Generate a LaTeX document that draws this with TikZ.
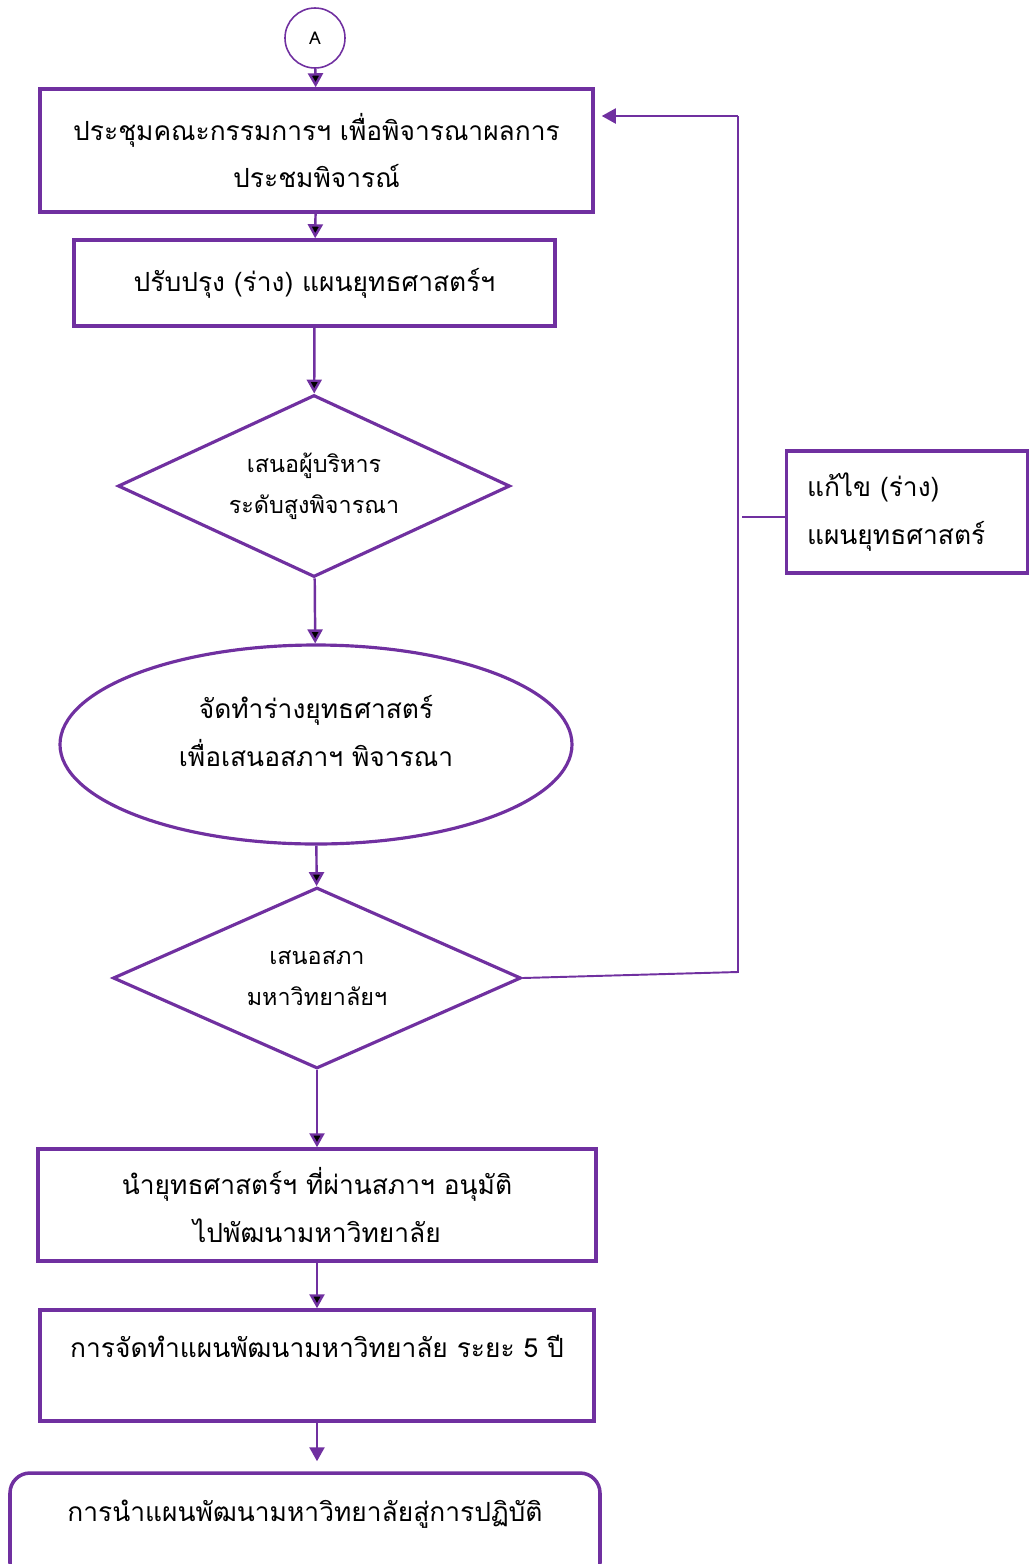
\documentclass[tikz,border=0pt]{standalone}
\usepackage{fontspec}
\newfontfamily\thaifont[Script=Thai]{Loma}
\usepackage{tikz}
\usetikzlibrary{arrows.meta, shapes.geometric, positioning, calc}
\definecolor{plan_purple}{RGB}{112,48,160}

\begin{document}
\begin{tikzpicture}
	\tikzstyle{box_style}=[rectangle, draw=plan_purple, line width=2pt, align=center, inner sep=0pt, font=\thaifont\fontsize{15}{27}\selectfont]
	\tikzstyle{decision_style}=[diamond, aspect=2.2, draw=plan_purple, line width=1.8pt, align=center, inner sep=0pt, font=\thaifont\fontsize{13.3}{23.5}\selectfont]
	\tikzstyle{arrow_style}=[draw=plan_purple, line width=1.4pt, -{Triangle[length=0.28cm, width=0.3cm]}]
	\tikzstyle{loop_style}=[draw=plan_purple, line width=1.1pt]
	\useasboundingbox (0, 0) rectangle (20.6, -31.28);
	% connector A
	\node at (6.30, -0.76) [circle, draw=plan_purple, line width=0.9pt, minimum size=1.2cm, inner sep=0pt, font=\thaifont\fontsize{10}{12}\selectfont] (conn_a) {A};
	% committee meeting
	\node at (6.33, -3.01) [box_style, minimum width=11.06cm, minimum height=2.46cm] (box_meet) {ประชุมคณะกรรมการฯ เพื่อพิจารณาผลการ\\ประชมพิจารณ์};
	\node at (6.29, -5.66) [box_style, minimum width=9.62cm, minimum height=1.72cm] (box_improve) {ปรับปรุง (ร่าง) แผนยุทธศาสตร์ฯ};
	% executives
	\node at (6.28, -9.72) [decision_style, minimum width=7.84cm, minimum height=3.64cm] (dia_exec) {เสนอผู้บริหาร\\ระดับสูงพิจารณา};
	\node at (6.32, -14.89) [ellipse, draw=plan_purple, line width=1.8pt, minimum width=10.24cm, minimum height=3.98cm, align=center, inner sep=0pt, text depth=0.55cm, font=\thaifont\fontsize{15}{27}\selectfont] (ell_draft) {จัดทำร่างยุทธศาสตร์\\เพื่อเสนอสภาฯ พิจารณา};
	% university council
	\node at (6.34, -19.56) [decision_style, minimum width=8.16cm, minimum height=3.62cm] (dia_council) {เสนอสภา\\มหาวิทยาลัยฯ};
	% revision
	\node at (18.14, -10.24) [box_style, minimum width=4.82cm, minimum height=2.44cm, text width=4.0cm, align=left] (box_revise) {แก้ไข (ร่าง)\\แผนยุทธศาสตร์};
	% implementation
	\node at (6.34, -24.10) [box_style, minimum width=11.16cm, minimum height=2.24cm] (box_apply) {นำยุทธศาสตร์ฯ ที่ผ่านสภาฯ อนุมัติ\\ไปพัฒนามหาวิทยาลัย};
	\node at (6.34, -27.31) [box_style, minimum width=11.08cm, minimum height=2.22cm, text depth=0.75cm] (box_plan) {การจัดทำแผนพัฒนามหาวิทยาลัย ระยะ 5 ปี};
	\node at (6.10, -30.56) [box_style, rounded corners=0.4cm, minimum width=11.8cm, minimum height=2.2cm, text depth=0.7cm] (box_use) {การนำแผนพัฒนามหาวิทยาลัยสู่การปฏิบัติ};
	% connect: main flow
	\foreach \a/\b in {conn_a/box_meet, box_meet/box_improve, box_improve/dia_exec, dia_exec/ell_draft, ell_draft/dia_council, dia_council/box_apply, box_apply/box_plan}
		\path[arrow_style] (\a) edge (\b);
	\draw[arrow_style, shorten >=0.2cm] (box_plan.south) -- (box_plan.south |- box_use.north);
	% connect: back to meeting
	\coordinate (loop_bottom) at (14.76, -19.44);
	\coordinate (loop_top) at (14.76, -2.32);
	\coordinate (loop_side) at (14.84, -10.34);
	\draw[loop_style] (dia_council.east) -- (loop_bottom) -- (loop_top);
	\draw[arrow_style, loop_style, -{Triangle[length=0.28cm, width=0.3cm]}, shorten >=0.14cm] (loop_top) -- (loop_top -| box_meet.east);
	\draw[loop_style] (loop_side) -- (loop_side -| box_revise.west);
\end{tikzpicture}
\end{document}
